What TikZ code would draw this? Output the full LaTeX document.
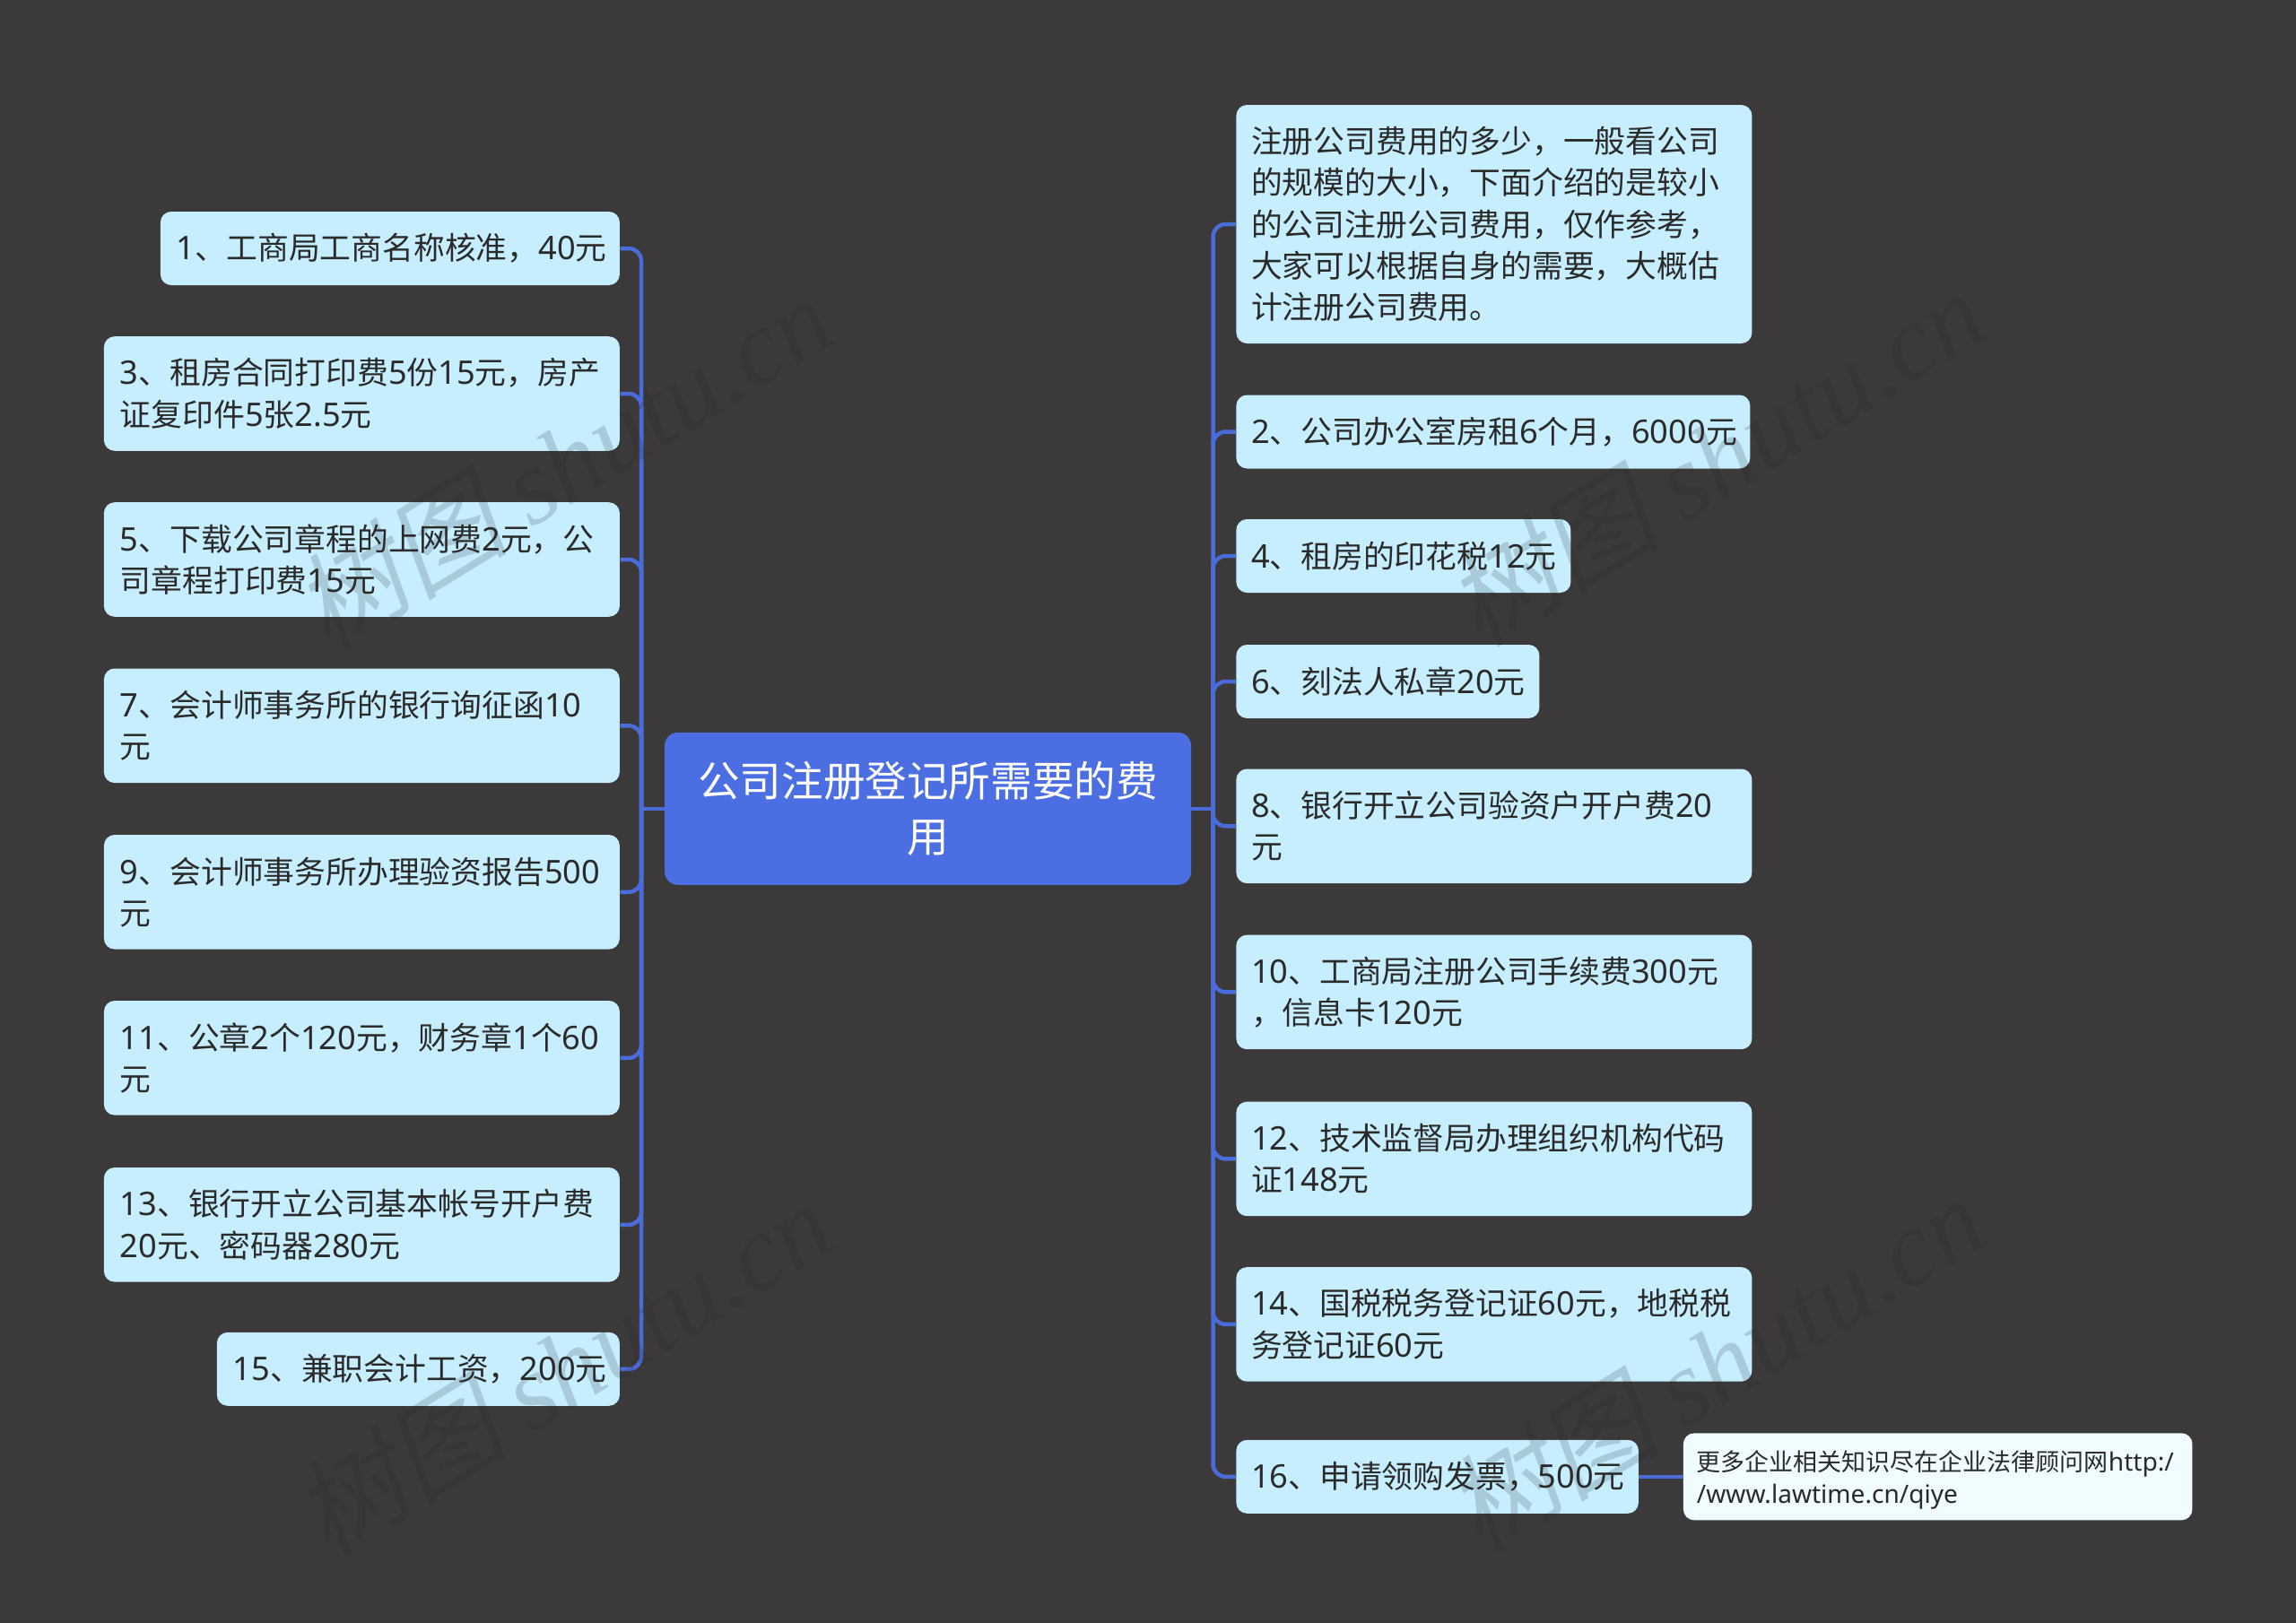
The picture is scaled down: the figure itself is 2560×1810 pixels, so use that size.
\documentclass[tikz,border=0pt]{standalone}
\usepackage{fontspec}
\setmainfont{Noto Sans CJK SC}
\newfontfamily\ltn[Scale=1.04]{Noto Sans}
\newcommand\nm[1]{{\ltn #1}}
\newfontfamily\wmcjk[FakeSlant=0.2]{Noto Sans CJK SC}
\newfontfamily\wmlat{Liberation Serif}[ItalicFont=* Italic]
\definecolor{bgc}{HTML}{3B393A}
\definecolor{leafc}{HTML}{C6EEFF}
\definecolor{notec}{HTML}{F0FCFF}
\definecolor{rootc}{HTML}{4B6EE2}
\definecolor{connc}{HTML}{4B6BD8}
\definecolor{inkc}{HTML}{2A2A2A}
\definecolor{wmc}{HTML}{2A2A2A}
\tikzset{
  leaf/.style={fill=leafc,text=inkc,rounded corners=6pt,anchor=west,align=left,
    inner xsep=9pt,inner ysep=0pt,font=\fontsize{17.4}{23.2}\selectfont},
  twoline/.style={leaf,text width=269.5pt,minimum height=63.8pt},
  oneline/.style={leaf,minimum height=41pt},
  rcol/.style={inner xsep=8.3pt},
  rootbox/.style={fill=rootc,text=white,rounded corners=7pt,anchor=west,align=center,
    inner xsep=14pt,inner ysep=0pt,text width=265.4pt,minimum height=84.9pt,
    font=\fontsize{23.3}{31}\selectfont},
  notebox/.style={fill=notec,text=inkc,rounded corners=6pt,anchor=west,align=left,
    inner xsep=7.5pt,inner ysep=0pt,text width=268.75pt,minimum height=48.5pt,
    font=\fontsize{13.5}{18}\selectfont},
  conn/.style={draw=connc,line width=2.25pt,rounded corners=7pt},
  wmark/.style={rotate=31.5,text=wmc,text opacity=0.18,anchor=center,inner sep=0pt}
}
\begin{document}
\begin{tikzpicture}[x=0.5pt,y=-0.5pt]
\useasboundingbox (0,0) rectangle (2560,1810);
\fill[bgc] (0,0) rectangle (2560,1810);
\begin{scope}[yshift=-0.5pt]
% root
\node[rootbox] (root) at (740.8,900.85) {公司注册登记所需要的费\\用};
% left
\node[oneline,text width=238pt] (l1) at (178.5,276) {\nm{1}、工商局工商名称核准，\nm{40}元};
\node[twoline] (l3) at (115.5,438) {\nm{3}、租房合同打印费\nm{5}份\nm{15}元，房产\\证复印件\nm{5}张\nm{2.5}元};
\node[twoline] (l5) at (115.5,623) {\nm{5}、下载公司章程的上网费\nm{2}元，公\\司章程打印费\nm{15}元};
\node[twoline] (l7) at (115.5,808.3) {\nm{7}、会计师事务所的银行询征函\nm{10}\\元};
\node[twoline] (l9) at (115.5,993.8) {\nm{9}、会计师事务所办理验资报告\nm{500}\\元};
\node[twoline] (l11) at (115.5,1178.8) {\nm{11}、公章\nm{2}个\nm{120}元，财务章\nm{1}个\nm{60}\\元};
\node[twoline] (l13) at (115.5,1364.8) {\nm{13}、银行开立公司基本帐号开户费\\\nm{20}元、密码器\nm{280}元};
\node[oneline,text width=206.5pt] (l15) at (241.5,1525.8) {\nm{15}、兼职会计工资，\nm{200}元};
% right
\node[leaf,rcol,text width=270.9pt,minimum height=133pt] (ra) at (1378,249) {注册公司费用的多少，一般看公司\\的规模的大小，下面介绍的是较小\\的公司注册公司费用，仅作参考，\\大家可以根据自身的需要，大概估\\计注册公司费用。};
\node[oneline,rcol,text width=269.9pt] (r2) at (1378,480.5) {\nm{2}、公司办公室房租\nm{6}个月，\nm{6000}元};
\node[oneline,rcol,text width=169.9pt] (r4) at (1378,619) {\nm{4}、租房的印花税\nm{12}元};
\node[oneline,rcol,text width=152.4pt] (r6) at (1378,759) {\nm{6}、刻法人私章\nm{20}元};
\node[twoline,rcol,text width=270.9pt] (r8) at (1378,920.3) {\nm{8}、银行开立公司验资户开户费\nm{20}\\元};
\node[twoline,rcol,text width=270.9pt] (r10) at (1378,1105.4) {\nm{10}、工商局注册公司手续费\nm{300}元\\，信息卡\nm{120}元};
\node[twoline,rcol,text width=270.9pt] (r12) at (1378,1291.4) {\nm{12}、技术监督局办理组织机构代码\\证\nm{148}元};
\node[twoline,rcol,text width=270.9pt] (r14) at (1378,1475.9) {\nm{14}、国税税务登记证\nm{60}元，地税税\\务登记证\nm{60}元};
\node[oneline,rcol,text width=207.65pt] (r16) at (1378,1645.8) {\nm{16}、申请领购发票，\nm{500}元};
\node[notebox] (note) at (1876.5,1645.8) {\rule{0pt}{15pt}更多企业相关知识尽在企业法律顾问网\nm{http:/}\\\nm{/www.lawtime.cn/qiye}};
% connectors
\coordinate (tl) at (715,900.85);
\coordinate (tr) at (1352.5,900.85);
\draw[conn] (root.west) -- (tl);
\draw[conn] (root.east) -- (tr);
\foreach \n in {l1,l3,l5,l7,l9,l11,l13,l15} \draw[conn] (tl) |- (\n.east);
\foreach \n in {ra,r2,r4,r6,r8,r10,r12,r14,r16} \draw[conn] (tr) |- (\n.west);
\draw[conn] (r16.east) -- (note.west);
\end{scope}
% watermarks
\foreach \p/\q [count=\i] in {627/515,1912/510,627/1525,1912/1520}
  \node[wmark] (wm\i) at (\p,\q) {\fontsize{60}{60}\selectfont{\wmcjk 树图} {\wmlat\itshape shutu.cn}};
\end{tikzpicture}
\end{document}
